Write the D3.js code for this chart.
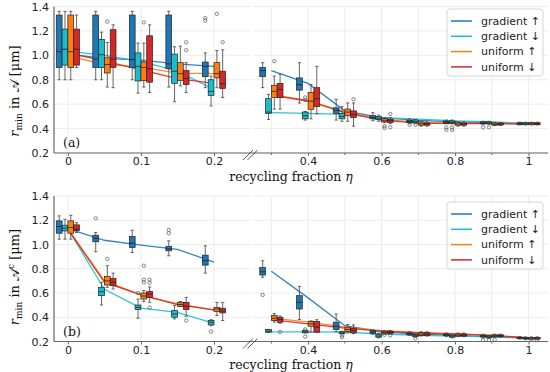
<!DOCTYPE html>
<html>
<head>
<meta charset="utf-8">
<script src="https://cdn.jsdelivr.net/npm/d3@7"></script>
<style>
  body { margin: 0; background: #fff; }
  svg { display: block; }
</style>
</head>
<body>
<svg id="chart" width="550" height="372"></svg>
<script>
const series = ["gradient ↑", "gradient ↓", "uniform ↑", "uniform ↓"];
const colors = ["#1f77b4", "#17becf", "#ff7f0e", "#d62728"];

const etaLeft = [0, 0.05, 0.1, 0.15, 0.2];
const etaRight = [0.3, 0.4, 0.5, 0.6, 0.7, 0.8, 0.9, 1.0];
const eta = etaLeft.concat(etaRight);

const yTicks = [0.2, 0.4, 0.6, 0.8, 1.0, 1.2, 1.4];
const xTicksLeft = [0, 0.1, 0.2];
const xTicksRight = [0.4, 0.6, 0.8, 1];
const xMinorRight = [0.3, 0.5, 0.7, 0.9];
const xTickLabels = { 0: "0", 0.1: "0.1", 0.2: "0.2", 0.4: "0.4", 0.6: "0.6", 0.8: "0.8", 1: "1" };

// box stats per eta: [low whisker, q1, median, q3, high whisker]
// panel (a): r_min in A
const boxA_gradUp = [
  [0.80, 0.90, 1.03, 1.33, 1.36], [0.80, 0.90, 0.97, 1.33, 1.36], [0.80, 0.90, 0.965, 1.33, 1.36],
  [0.74, 0.89, 0.93, 1.33, 1.36], [0.735, 0.825, 0.91, 0.945, 1.02],
  [0.735, 0.825, 0.875, 0.90, 0.94], [0.61, 0.715, 0.76, 0.815, 0.94], [0.47, 0.525, 0.55, 0.57, 0.64],
  [0.465, 0.48, 0.49, 0.505, 0.53], [0.44, 0.448, 0.458, 0.468, 0.48], [0.44, 0.445, 0.45, 0.462, 0.47],
  [0.435, 0.44, 0.445, 0.455, 0.46], [0.43, 0.432, 0.44, 0.448, 0.452]
];
const boxA_gradDown = [
  [0.80, 0.92, 1.05, 1.215, 1.36], [0.80, 0.90, 1.005, 1.13, 1.19], [0.69, 0.79, 0.91, 1.02, 1.10],
  [0.62, 0.77, 0.87, 1.01, 1.07], [0.585, 0.672, 0.705, 0.80, 0.83],
  [0.475, 0.525, 0.535, 0.645, 0.68], [0.47, 0.48, 0.505, 0.535, 0.54], [0.46, 0.48, 0.50, 0.525, 0.58],
  [0.46, 0.475, 0.485, 0.50, 0.51], [0.44, 0.448, 0.455, 0.47, 0.475], [0.44, 0.445, 0.452, 0.462, 0.47],
  [0.435, 0.44, 0.447, 0.455, 0.46], [0.43, 0.432, 0.44, 0.448, 0.452]
];
const boxA_unifUp = [
  [0.80, 0.90, 1.03, 1.33, 1.36], [0.74, 0.855, 0.925, 0.98, 1.105], [0.74, 0.795, 0.90, 0.945, 1.10],
  [0.75, 0.795, 0.85, 0.94, 1.075], [0.735, 0.815, 0.85, 0.94, 1.04],
  [0.56, 0.655, 0.705, 0.755, 0.83], [0.48, 0.558, 0.625, 0.695, 0.76], [0.46, 0.505, 0.535, 0.56, 0.61],
  [0.45, 0.455, 0.468, 0.482, 0.49], [0.42, 0.428, 0.44, 0.455, 0.46], [0.42, 0.428, 0.437, 0.45, 0.455],
  [0.425, 0.428, 0.435, 0.445, 0.45], [0.43, 0.432, 0.44, 0.448, 0.452]
];
const boxA_unifDown = [
  [0.90, 0.92, 1.05, 1.215, 1.33], [0.735, 0.90, 0.97, 1.21, 1.25], [0.695, 0.78, 0.89, 1.16, 1.25],
  [0.695, 0.76, 0.81, 0.875, 0.94], [0.655, 0.728, 0.767, 0.87, 1.045],
  [0.56, 0.655, 0.72, 0.77, 0.845], [0.52, 0.58, 0.645, 0.735, 0.91], [0.42, 0.49, 0.515, 0.545, 0.61],
  [0.44, 0.45, 0.465, 0.475, 0.49], [0.42, 0.428, 0.437, 0.445, 0.46], [0.42, 0.428, 0.437, 0.445, 0.455],
  [0.425, 0.43, 0.437, 0.445, 0.45], [0.43, 0.432, 0.44, 0.448, 0.452]
];
// connecting lines (one value per eta)
const lineA_gradUp = [1.01, 0.975, 0.96, 0.93, 0.91, 0.875, 0.77, 0.545, 0.49, 0.468, 0.455, 0.445, 0.44];
const lineA_gradDown = [1.035, 1.0, 0.95, 0.87, 0.72, 0.53, 0.525, 0.517, 0.49, 0.477, 0.463, 0.455, 0.442];
const lineA_unifUp = [0.995, 0.925, 0.905, 0.855, 0.85, 0.68, 0.628, 0.537, 0.477, 0.45, 0.445, 0.442, 0.44];
const lineA_unifDown = [1.02, 0.955, 0.88, 0.81, 0.77, 0.672, 0.626, 0.53, 0.47, 0.445, 0.44, 0.44, 0.438];
// outliers: [series index, eta, value]
const outliersA = [
  [2, 0.05, 1.277], [2, 0.1, 1.27], [3, 0.15, 1.107], [3, 0.15, 1.042],
  [0, 0.2, 1.305], [0, 0.2, 1.285], [2, 0.2, 1.34], [3, 0.2, 1.107],
  [2, 0.3, 0.952], [1, 0.4, 0.655], [1, 0.4, 0.635], [3, 0.5, 0.64],
  [2, 0.6, 0.42], [2, 0.6, 0.405], [3, 0.6, 0.52], [3, 0.6, 0.41],
  [0, 0.7, 0.432], [1, 0.7, 0.432], [0, 0.8, 0.409], [0, 0.8, 0.39], [1, 0.8, 0.409], [1, 0.8, 0.39],
  [0, 0.9, 0.41], [1, 0.9, 0.41]
];

// panel (b): r_min in A^c
const boxB_gradUp = [
  [1.044, 1.093, 1.148, 1.195, 1.236], [0.94, 1.022, 1.052, 1.077, 1.099], [0.934, 0.975, 1.011, 1.066, 1.118],
  [0.907, 0.948, 0.965, 0.985, 1.03], [0.764, 0.83, 0.866, 0.912, 0.989],
  [0.729, 0.748, 0.775, 0.81, 0.866], [0.381, 0.468, 0.523, 0.578, 0.655], [0.282, 0.299, 0.326, 0.359, 0.427],
  [0.26, 0.268, 0.278, 0.288, 0.295], [0.25, 0.255, 0.262, 0.27, 0.28], [0.24, 0.248, 0.255, 0.262, 0.27],
  [0.23, 0.238, 0.245, 0.252, 0.26], [0.22, 0.225, 0.23, 0.235, 0.24]
];
const boxB_gradDown = [
  [1.044, 1.112, 1.134, 1.159, 1.208], [0.501, 0.578, 0.61, 0.647, 0.688], [0.392, 0.463, 0.482, 0.501, 0.55],
  [0.386, 0.40, 0.427, 0.455, 0.496], [0.33, 0.337, 0.359, 0.373, 0.38],
  [0.275, 0.277, 0.285, 0.299, 0.30], [0.27, 0.272, 0.28, 0.29, 0.295], [0.262, 0.265, 0.272, 0.28, 0.285],
  [0.23, 0.236, 0.245, 0.26, 0.268], [0.235, 0.24, 0.248, 0.258, 0.265], [0.23, 0.236, 0.244, 0.252, 0.26],
  [0.225, 0.23, 0.238, 0.245, 0.25], [0.215, 0.22, 0.225, 0.232, 0.238]
];
const boxB_unifUp = [
  [1.044, 1.093, 1.14, 1.195, 1.24], [0.647, 0.666, 0.70, 0.737, 0.825], [0.53, 0.55, 0.575, 0.60, 0.62],
  [0.49, 0.49, 0.505, 0.523, 0.53], [0.414, 0.447, 0.468, 0.482, 0.523],
  [0.36, 0.373, 0.392, 0.414, 0.43], [0.277, 0.326, 0.345, 0.364, 0.37], [0.27, 0.282, 0.30, 0.318, 0.34],
  [0.26, 0.265, 0.275, 0.285, 0.29], [0.245, 0.25, 0.26, 0.272, 0.28], [0.24, 0.245, 0.252, 0.262, 0.27],
  [0.235, 0.24, 0.248, 0.255, 0.26], [0.215, 0.22, 0.226, 0.232, 0.238]
];
const boxB_unifDown = [
  [1.099, 1.115, 1.126, 1.162, 1.18], [0.633, 0.66, 0.688, 0.72, 0.764], [0.523, 0.564, 0.592, 0.614, 0.65],
  [0.408, 0.463, 0.49, 0.523, 0.564], [0.373, 0.436, 0.452, 0.474, 0.523],
  [0.35, 0.359, 0.381, 0.40, 0.41], [0.277, 0.277, 0.318, 0.364, 0.38], [0.265, 0.271, 0.29, 0.31, 0.337],
  [0.26, 0.265, 0.275, 0.285, 0.29], [0.245, 0.25, 0.26, 0.272, 0.28], [0.24, 0.245, 0.252, 0.262, 0.27],
  [0.235, 0.24, 0.248, 0.255, 0.26], [0.215, 0.22, 0.226, 0.232, 0.238]
];
const lineB_gradUp = [1.13, 1.035, 0.995, 0.96, 0.855, 0.78, 0.56, 0.33, 0.28, 0.26, 0.25, 0.238, 0.228];
const lineB_gradDown = [1.13, 0.63, 0.475, 0.44, 0.35, 0.28, 0.28, 0.278, 0.262, 0.25, 0.245, 0.238, 0.228];
const lineB_unifUp = [1.13, 0.70, 0.585, 0.51, 0.46, 0.395, 0.36, 0.32, 0.29, 0.275, 0.265, 0.25, 0.23];
const lineB_unifDown = [1.125, 0.69, 0.585, 0.505, 0.46, 0.38, 0.345, 0.31, 0.285, 0.27, 0.26, 0.25, 0.23];
const outliersB = [
  [0, 0.05, 1.216], [2, 0.05, 0.88], [1, 0.1, 0.60], [2, 0.1, 0.825], [2, 0.1, 0.71], [2, 0.1, 0.688],
  [3, 0.1, 0.71], [3, 0.1, 0.685], [3, 0.1, 0.48], [0, 0.15, 1.12], [0, 0.15, 1.093], [3, 0.15, 0.373],
  [1, 0.2, 0.282], [0, 0.3, 0.584], [3, 0.3, 0.277], [1, 0.4, 0.30], [1, 0.4, 0.24],
  [1, 0.5, 0.25], [1, 0.5, 0.235], [2, 0.6, 0.255], [3, 0.6, 0.25],
  [1, 0.7, 0.225], [0, 0.9, 0.212], [1, 0.9, 0.212], [2, 0.9, 0.215], [2, 1.0, 0.215], [3, 1.0, 0.212]
];

const panels = [
  { id: "a", top: 6.5, bottom: 153, boxes: [boxA_gradUp, boxA_gradDown, boxA_unifUp, boxA_unifDown],
    lines: [lineA_gradUp, lineA_gradDown, lineA_unifUp, lineA_unifDown], outliers: outliersA,
    legendY: 9, ylabelY: 91, sup: "" },
  { id: "b", top: 196, bottom: 341.5, boxes: [boxB_gradUp, boxB_gradDown, boxB_unifUp, boxB_unifDown],
    lines: [lineB_gradUp, lineB_gradDown, lineB_unifUp, lineB_unifDown], outliers: outliersB,
    legendY: 202, ylabelY: 277, sup: "c" }
];

const svg = d3.select("#chart");

// broken x axis: two linear pieces meeting at 0.25
const xLeft = d3.scaleLinear().domain([-0.019, 0.25]).range([54, 250.5]);
const xRight = d3.scaleLinear().domain([0.25, 1.053]).range([253, 548]);
const xPos = v => v <= 0.25 ? xLeft(v) : xRight(v);
const offset = d3.scaleBand().domain(series).range([-11.6, 11.6]);
const boxW = offset.bandwidth();

const sansFont = "DejaVu Sans, sans-serif";
const serifFont = "DejaVu Serif, serif";

panels.forEach(p => {
  const y = d3.scaleLinear().domain([0.2, 1.4]).range([p.bottom, p.top]);
  const g = svg.append("g");

  // grid
  const grid = g.append("g").attr("stroke", "#e8e8e8").attr("stroke-width", 0.8);
  yTicks.forEach(t => {
    grid.append("line").attr("x1", 54).attr("x2", 250.5).attr("y1", y(t)).attr("y2", y(t));
    grid.append("line").attr("x1", 253).attr("x2", 548).attr("y1", y(t)).attr("y2", y(t));
  });
  xTicksLeft.forEach(t => {
    grid.append("line").attr("x1", xLeft(t)).attr("x2", xLeft(t)).attr("y1", p.top).attr("y2", p.bottom);
  });
  xTicksRight.concat(xMinorRight).forEach(t => {
    grid.append("line").attr("x1", xRight(t)).attr("x2", xRight(t)).attr("y1", p.top).attr("y2", p.bottom);
  });

  // connecting lines, drawn separately on each side of the break
  const line = d3.line().x(d => xPos(d[0])).y(d => y(d[1]));
  p.lines.forEach((vals, si) => {
    const pts = eta.map((e, i) => [e, vals[i]]);
    [pts.filter(d => d[0] <= 0.25), pts.filter(d => d[0] > 0.25)].forEach(part => {
      g.append("path").datum(part).attr("d", line)
        .attr("fill", "none").attr("stroke", colors[si]).attr("stroke-width", 1.3).attr("opacity", 0.9);
    });
  });

  // boxes
  p.boxes.forEach((stats, si) => {
    const bx = g.append("g");
    stats.forEach((s, i) => {
      const cx = xPos(eta[i]) + offset(series[si]) + boxW / 2;
      const [lo, q1, med, q3, hi] = s;
      bx.append("line").attr("x1", cx).attr("x2", cx).attr("y1", y(q3)).attr("y2", y(hi))
        .attr("stroke", "#555").attr("stroke-width", 0.9);
      bx.append("line").attr("x1", cx).attr("x2", cx).attr("y1", y(q1)).attr("y2", y(lo))
        .attr("stroke", "#555").attr("stroke-width", 0.9);
      [lo, hi].forEach(v => {
        bx.append("line").attr("x1", cx - 1.6).attr("x2", cx + 1.6).attr("y1", y(v)).attr("y2", y(v))
          .attr("stroke", "#555").attr("stroke-width", 0.9);
      });
      bx.append("rect").attr("x", cx - boxW / 2).attr("width", boxW)
        .attr("y", y(q3)).attr("height", Math.max(y(q1) - y(q3), 1))
        .attr("fill", colors[si]).attr("stroke", "#222").attr("stroke-width", 0.7);
      bx.append("line").attr("x1", cx - boxW / 2).attr("x2", cx + boxW / 2).attr("y1", y(med)).attr("y2", y(med))
        .attr("stroke", "#222").attr("stroke-width", 0.8);
    });
  });

  // outliers
  g.append("g").selectAll("circle").data(p.outliers).enter().append("circle")
    .attr("cx", d => xPos(d[1]) + offset(series[d[0]]) + boxW / 2)
    .attr("cy", d => y(d[2]))
    .attr("r", 1.7).attr("fill", "none").attr("stroke", "#555").attr("stroke-width", 0.7);

  // spines
  g.append("line").attr("x1", 54).attr("x2", 54).attr("y1", p.top).attr("y2", p.bottom)
    .attr("stroke", "#666").attr("stroke-width", 1.2);
  g.append("line").attr("x1", 54).attr("x2", 548).attr("y1", p.bottom).attr("y2", p.bottom)
    .attr("stroke", "#666").attr("stroke-width", 1.2);

  // break marks
  [248, 252.5].forEach(bx => {
    g.append("line").attr("x1", bx - 5).attr("x2", bx + 5).attr("y1", p.bottom + 7).attr("y2", p.bottom - 3)
      .attr("stroke", "#333").attr("stroke-width", 0.8);
  });

  // y axis
  const yAxis = d3.axisLeft(y).tickValues(yTicks).tickSize(0).tickPadding(5).tickFormat(d3.format(".1f"));
  const ya = g.append("g").attr("transform", "translate(54,0)").call(yAxis);
  ya.select(".domain").remove();
  ya.selectAll("text").attr("font-family", sansFont).attr("font-size", 11).attr("fill", "#222");

  // x axes
  [[xLeft, xTicksLeft, []], [xRight, xTicksRight, xMinorRight]].forEach(([sc, major, minor]) => {
    const xa = g.append("g").attr("transform", `translate(0,${p.bottom})`)
      .call(d3.axisBottom(sc).tickValues(major).tickSize(3).tickPadding(1.5).tickFormat(d => xTickLabels[d]));
    xa.select(".domain").remove();
    xa.selectAll("line").attr("stroke", "#666");
    xa.selectAll("text").attr("font-family", sansFont).attr("font-size", 11).attr("fill", "#222");
    minor.forEach(t => {
      g.append("line").attr("x1", sc(t)).attr("x2", sc(t)).attr("y1", p.bottom).attr("y2", p.bottom + 2)
        .attr("stroke", "#666");
    });
  });

  // x title
  const xt = g.append("text").attr("x", 291).attr("y", p.bottom + 27.5)
    .attr("text-anchor", "middle").attr("font-family", serifFont).attr("font-size", 12.5).attr("fill", "#111");
  xt.append("tspan").text("recycling fraction ");
  xt.append("tspan").attr("font-style", "italic").text("η");

  // y title
  const yt = g.append("text").attr("transform", `translate(19,${p.ylabelY}) rotate(-90)`)
    .attr("text-anchor", "middle").attr("font-family", serifFont).attr("font-size", 13).attr("fill", "#111");
  yt.append("tspan").attr("font-style", "italic").text("r");
  yt.append("tspan").attr("font-size", 9).attr("dy", 3).text("min");
  yt.append("tspan").attr("dy", -3).text(" in 𝒜");
  if (p.sup) {
    yt.append("tspan").attr("font-size", 9).attr("dy", -5).text(p.sup);
    yt.append("tspan").attr("dy", 5).text(" [μm]");
  } else {
    yt.append("tspan").text(" [μm]");
  }

  // panel label
  g.append("text").attr("x", 63).attr("y", p.bottom - 6).attr("font-family", serifFont)
    .attr("font-size", 12.5).attr("fill", "#111").text(`(${p.id})`);

  // legend
  const lg = g.append("g").attr("transform", `translate(447,${p.legendY})`);
  lg.append("rect").attr("width", 96).attr("height", 67).attr("rx", 3)
    .attr("fill", "#fff").attr("fill-opacity", 0.85).attr("stroke", "#ccc").attr("stroke-width", 0.8);
  series.forEach((s, i) => {
    const ry = 12 + i * 15.3;
    lg.append("line").attr("x1", 4).attr("x2", 25).attr("y1", ry).attr("y2", ry)
      .attr("stroke", colors[i]).attr("stroke-width", 1.5);
    lg.append("text").attr("x", 34).attr("y", ry).attr("dy", "0.35em")
      .attr("font-family", sansFont).attr("font-size", 11).attr("fill", "#222").text(s);
  });
});
</script>
</body>
</html>
